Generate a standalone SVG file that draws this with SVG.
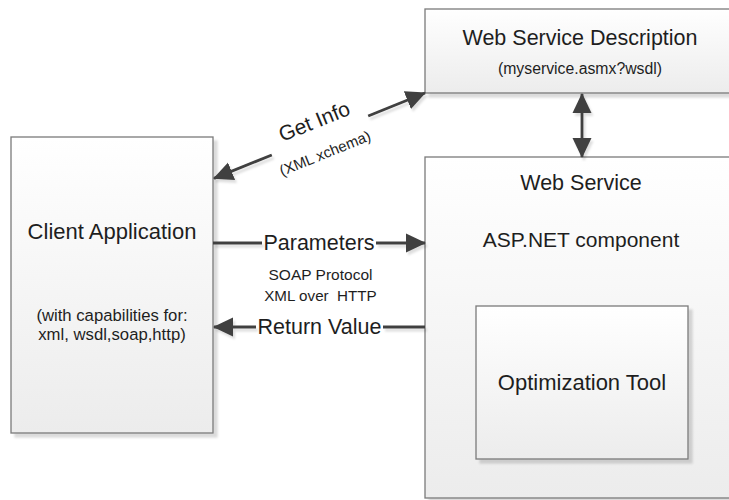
<svg xmlns="http://www.w3.org/2000/svg" width="729" height="500" viewBox="0 0 729 500">
<style>
text{font-family:"Liberation Sans",Arial,sans-serif;fill:#1e1e1e;text-anchor:middle}
.box{fill:url(#g);stroke:#7a7a7a;stroke-width:1.3;filter:url(#bs)}
.c{fill:none;stroke:#404040;stroke-width:2.8;filter:url(#ls)}
.big{font-size:21.5px}
.sm{font-size:15.5px}
.md{font-size:16.7px}
</style>
<defs>
<linearGradient id="g" x1="0" y1="0" x2="0" y2="1">
<stop offset="0" stop-color="#ffffff"/>
<stop offset="1" stop-color="#ececec"/>
</linearGradient>
<filter id="bs" x="-10%" y="-10%" width="130%" height="130%">
<feDropShadow dx="4" dy="4" stdDeviation="1" flood-color="#000" flood-opacity="0.14"/>
</filter>
<filter id="ls" filterUnits="userSpaceOnUse" x="0" y="0" width="729" height="500">
<feDropShadow dx="2" dy="3" stdDeviation="0.8" flood-color="#000" flood-opacity="0.13"/>
</filter>
<marker id="ah" viewBox="0 0 20 20" refX="19" refY="10" markerWidth="20" markerHeight="20" markerUnits="userSpaceOnUse" orient="auto-start-reverse">
<path d="M0,0.5 L20,10 L0,19.5 Z" fill="#404040"/>
</marker>
</defs>
<rect width="729" height="500" fill="#fff"/>

<g id="client">
<rect class="box" x="11" y="137" width="202" height="296"/>
<text class="big" x="112" y="239" style="font-size:22px">Client Application</text>
<text class="md" x="112" y="321">(with capabilities for:</text>
<text class="md" x="112" y="340">xml, wsdl,soap,http)</text>
</g>

<g id="wsd">
<rect class="box" x="425" y="9" width="310" height="84"/>
<text class="big" x="580" y="45">Web Service Description</text>
<text class="sm" x="580" y="74" style="font-size:15.8px">(myservice.asmx?wsdl)</text>
</g>

<g id="ws">
<rect class="box" x="425" y="157" width="310" height="341"/>
<text class="big" x="581" y="190">Web Service</text>
<text class="big" x="581" y="246.5" style="font-size:21px">ASP.NET component</text>
</g>

<g id="opt">
<rect class="box" x="476" y="306" width="212" height="153"/>
<text class="big" x="582" y="389.5" style="font-size:22px">Optimization Tool</text>
</g>

<g id="connectors">
<path class="c" d="M271.8,155 L214,178.4" marker-end="url(#ah)"/>
<path class="c" d="M368.2,116 L425,93" marker-end="url(#ah)"/>
<path class="c" d="M582,94 L582,157" marker-start="url(#ah)" marker-end="url(#ah)"/>
<path class="c" d="M213,243 L262,243"/>
<path class="c" d="M376,243 L425,243" marker-end="url(#ah)"/>
<path class="c" d="M425,327 L383,327"/>
<path class="c" d="M256,327 L214,327" marker-end="url(#ah)"/>
</g>

<g id="labels">
<g transform="translate(320,135.5) rotate(-22.04)">
<text x="0" y="-8" style="font-size:21px">Get Info</text>
<text x="-2" y="23.5" style="font-size:15px">(XML xchema)</text>
</g>
<text class="big" x="319" y="249.5">Parameters</text>
<text class="sm" x="320.5" y="280">SOAP Protocol</text>
<text class="sm" x="320.5" y="300.5" xml:space="preserve" style="font-size:15.2px;white-space:pre">XML over  HTTP</text>
<text class="big" x="319.5" y="333.5">Return Value</text>
</g>
</svg>
